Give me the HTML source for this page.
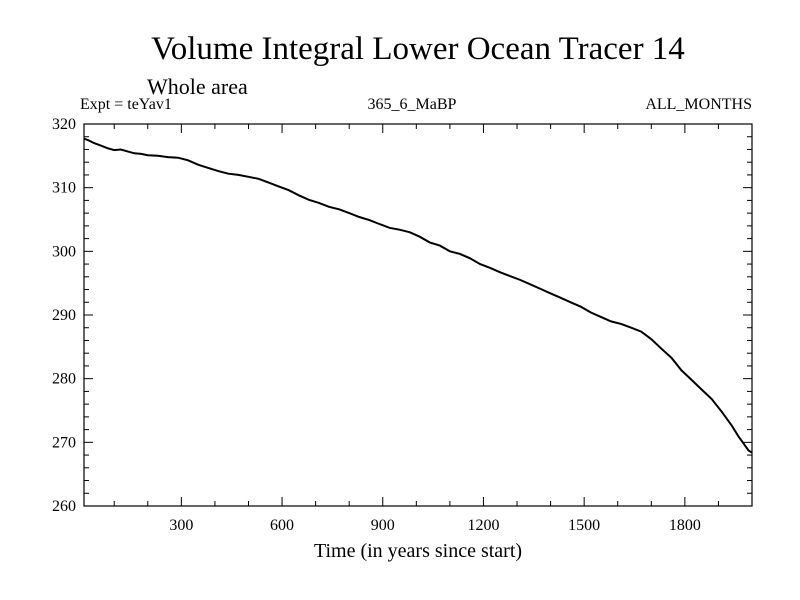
<!DOCTYPE html>
<html><head><meta charset="utf-8"><style>
body{margin:0;background:#fff;}
svg{display:block;font-family:"Liberation Serif",serif;}
</style></head><body>
<svg id="chart" width="800" height="600">
<text x="418" y="59" font-size="33" text-anchor="middle">Volume Integral Lower Ocean Tracer 14</text>
<text x="147" y="94" font-size="22">Whole area</text>
<text x="80" y="109" font-size="16">Expt = teYav1</text>
<text x="412" y="109" font-size="16" text-anchor="middle">365_6_MaBP</text>
<text x="752" y="109" font-size="16" text-anchor="end">ALL_MONTHS</text>
<text x="418" y="557" font-size="20" text-anchor="middle">Time (in years since start)</text>
<g id="axes"></g>
<path id="line" fill="none" stroke="#000" stroke-width="2"/>
<rect x="84" y="124" width="668" height="382" fill="none" stroke="#000" stroke-width="1.2"/>
</svg>
<script>
const years=[10,25,40,60,80,100,120,140,160,180,200,230,260,290,320,350,380,410,440,470,500,530,560,590,620,650,680,710,740,770,800,830,860,890,920,950,980,1010,1040,1070,1100,1130,1160,1190,1220,1250,1280,1310,1340,1370,1400,1430,1460,1490,1520,1550,1580,1610,1640,1670,1700,1730,1760,1790,1820,1850,1880,1910,1940,1960,1975,1990,2000];
const values=[317.7,317.4,317.0,316.6,316.2,315.9,316.0,315.7,315.4,315.3,315.1,315.0,314.8,314.7,314.3,313.6,313.1,312.6,312.2,312.0,311.7,311.4,310.8,310.2,309.6,308.8,308.1,307.6,307.0,306.6,306.0,305.4,304.9,304.3,303.7,303.4,303.0,302.3,301.4,300.9,300.0,299.6,298.9,298.0,297.4,296.7,296.1,295.5,294.8,294.1,293.4,292.7,292.0,291.3,290.4,289.7,289.0,288.6,288.0,287.4,286.2,284.7,283.3,281.3,279.8,278.3,276.8,274.8,272.6,270.9,269.8,268.7,268.4];
const xTicks=[300,600,900,1200,1500,1800];
const yTicks=[260,270,280,290,300,310,320];
const X0=84,X1=752,Y0=506,Y1=124,XMIN=10,XMAX=2000,YMIN=260,YMAX=320;
const sx=v=>X0+(v-XMIN)/(XMAX-XMIN)*(X1-X0);
const sy=v=>Y0-(v-YMIN)/(YMAX-YMIN)*(Y0-Y1);
const NS='http://www.w3.org/2000/svg';
const g=document.getElementById('axes');
function ln(x1,y1,x2,y2){const l=document.createElementNS(NS,'line');l.setAttribute('x1',x1);l.setAttribute('y1',y1);l.setAttribute('x2',x2);l.setAttribute('y2',y2);l.setAttribute('stroke','#000');l.setAttribute('stroke-width','1');


g.appendChild(l);}
function tx(x,y,s,a,name){const t=document.createElementNS(NS,'text');t.setAttribute('x',x);t.setAttribute('y',y);t.setAttribute('font-size','16');t.setAttribute('text-anchor',a);t.textContent=s;


g.appendChild(t);}
for(let v=100;v<=2000;v+=100){const x=sx(v);const major=v%300===0;const L=major?9:5;ln(x,Y0,x,Y0-L);ln(x,Y1,x,Y1+L);}
xTicks.forEach(v=>tx(sx(v),Y0+24,String(v),'middle','x-tick-label'));
for(let v=YMIN;v<=YMAX;v+=2){const y=sy(v);const major=v%10===0;const L=major?9:5;ln(X0,y,X0+L,y);ln(X1,y,X1-L,y);}
yTicks.forEach(v=>tx(X0-8,sy(v)+5,String(v),'end','y-tick-label'));
document.getElementById('line').setAttribute('d',years.map((y,i)=>(i?'L':'M')+sx(y).toFixed(1)+','+sy(values[i]).toFixed(1)).join(''));
</script>
</body></html>
